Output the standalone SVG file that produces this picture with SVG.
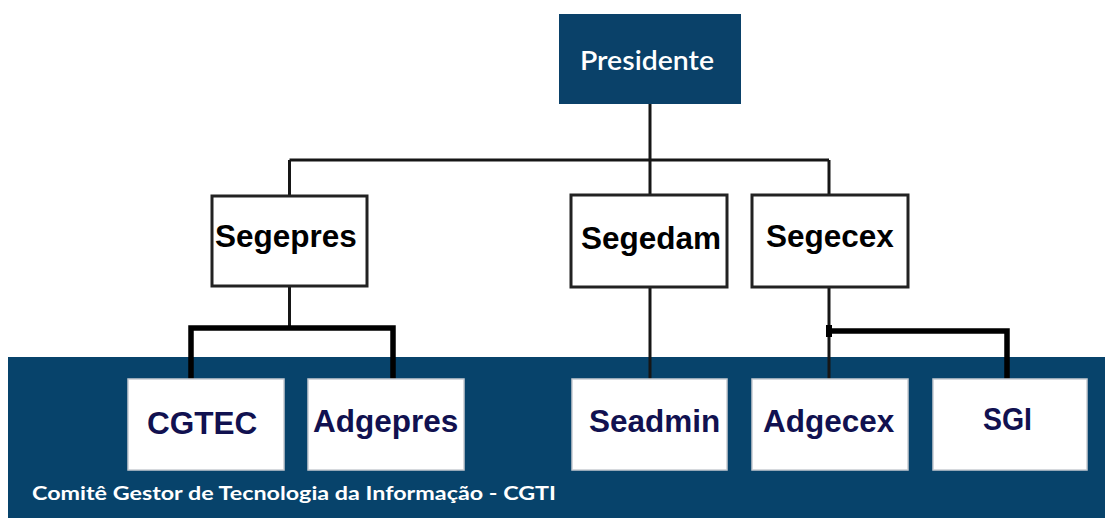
<svg xmlns="http://www.w3.org/2000/svg" width="1105" height="518" viewBox="0 0 1105 518">
<style>
.band{fill:#07436b}
.pres{fill:#0a4169}
.box{fill:#fff;stroke:#222;stroke-width:3}
.lbox{fill:#fff;stroke:#c8ccd2;stroke-width:1.5}
.t{font-family:"Liberation Sans",Arial,sans-serif;font-weight:bold;font-size:31.5px;fill:#000}
.tb{font-family:"Liberation Sans",Arial,sans-serif;font-weight:bold;font-size:31.5px;fill:#111150}
.wt{font-family:Lato,"Open Sans",sans-serif;fill:#fff}
.thin{fill:none;stroke:#161616;stroke-width:3}
.thick{fill:none;stroke:#000;stroke-width:5.5}
</style>
<rect class="band" x="8" y="357" width="1097" height="161"/>
<text class="wt" x="32" y="500" font-size="18.5" font-weight="bold" textLength="524" lengthAdjust="spacingAndGlyphs">Comitê Gestor de Tecnologia da Informação - CGTI</text>
<g id="connectors">
<path class="thin" d="M650 104V160M289.5 160H829M289.5 160V196M650 160V195M829 160V195"/>
<path class="thin" d="M289.5 286V328M650 287V379M829 287V379"/>
<path class="thick" d="M191 379V328H393V379"/>
<path class="thick" d="M829 331H1007V379"/>
<rect x="826" y="325" width="6" height="12" fill="#000"/>
</g>
<g id="presidente">
<rect class="pres" x="559" y="14" width="182" height="90"/>
<text class="wt" x="580" y="70" font-size="26" font-weight="600" textLength="134" lengthAdjust="spacingAndGlyphs">Presidente</text>
</g>
<g id="segepres">
<rect class="box" x="212" y="196" width="155" height="90"/>
<text class="t" x="215" y="247">Segepres</text>
</g>
<g id="segedam">
<rect class="box" x="571" y="195" width="156" height="92"/>
<text class="t" x="581" y="249">Segedam</text>
</g>
<g id="segecex">
<rect class="box" x="752" y="195" width="156" height="92"/>
<text class="t" x="766" y="247">Segecex</text>
</g>
<g id="cgtec">
<rect class="lbox" x="128" y="379" width="156" height="91"/>
<text class="tb" x="147" y="434">CGTEC</text>
</g>
<g id="adgepres">
<rect class="lbox" x="308" y="379" width="156" height="91"/>
<text class="tb" x="313" y="432">Adgepres</text>
</g>
<g id="seadmin">
<rect class="lbox" x="572" y="379" width="155" height="91"/>
<text class="tb" x="589" y="432">Seadmin</text>
</g>
<g id="adgecex">
<rect class="lbox" x="752" y="379" width="156" height="91"/>
<text class="tb" x="763" y="432">Adgecex</text>
</g>
<g id="sgi">
<rect class="lbox" x="933" y="379" width="154" height="91"/>
<text class="tb" x="983" y="430" textLength="49" lengthAdjust="spacingAndGlyphs">SGI</text>
</g>
</svg>
